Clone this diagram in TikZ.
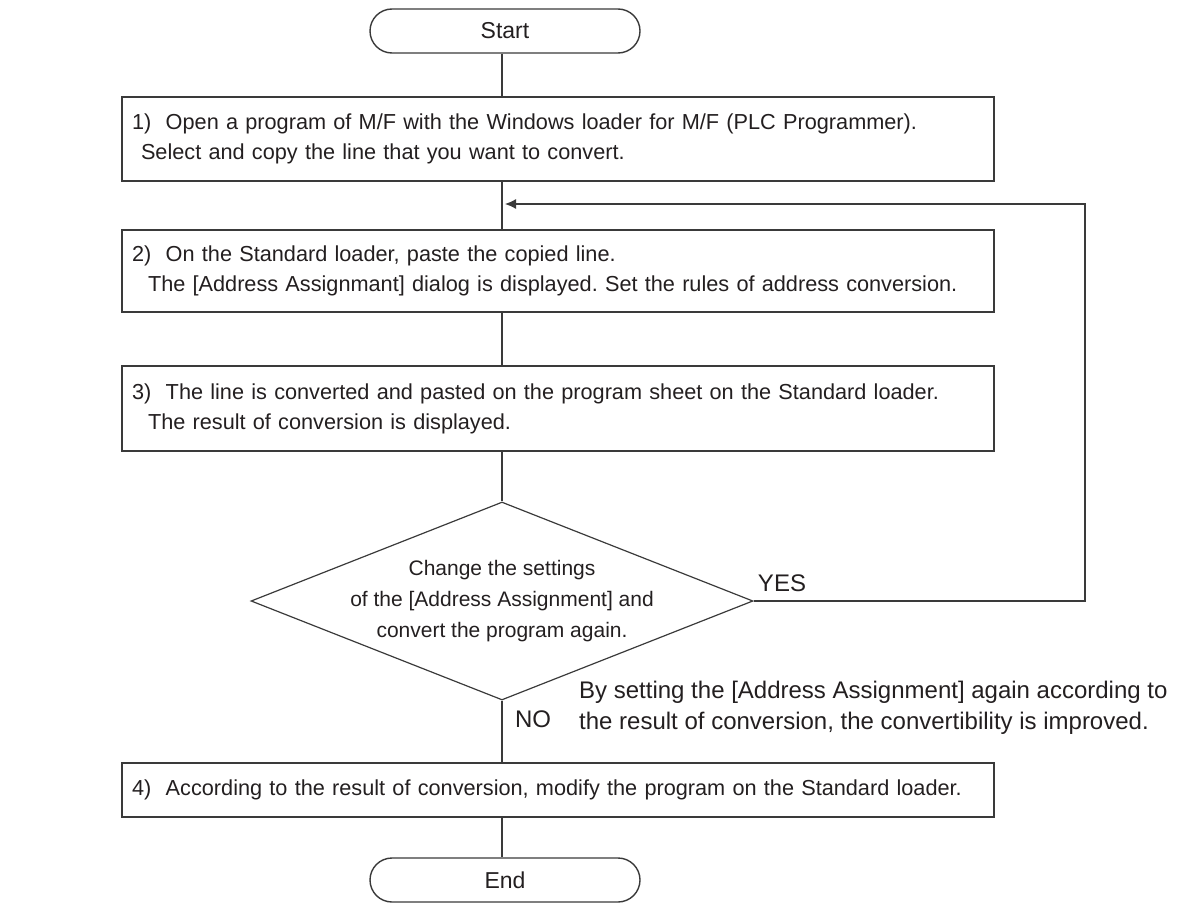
\documentclass[tikz,border=0pt]{standalone}
\usepackage{fontspec}
\setmainfont{Liberation Sans}
\usetikzlibrary{shapes.geometric,arrows.meta}
\definecolor{ink}{HTML}{231F20}
\definecolor{rule}{HTML}{3A3A3A}
\begin{document}
\frenchspacing
\begin{tikzpicture}[x=1pt,y=-1pt,
  every node/.style={text=ink,font=\fontsize{21.7}{30}\selectfont},
  terminal/.style={draw=rule,line width=1.4pt,rectangle,rounded corners=22pt,
    minimum width=270pt,minimum height=44pt,inner sep=0pt,
    font=\fontsize{23}{30}\selectfont},
  stepbox/.style={draw=rule,line width=1.4pt,rectangle,minimum width=872pt,
    text width=852pt,align=left,inner xsep=10pt,inner ysep=0pt},
  decision/.style={draw=rule,line width=1.2pt,diamond,minimum width=502pt,
    minimum height=198pt,inner sep=0pt},
  flow/.style={draw=rule,line width=1.2pt},
  tag/.style={inner sep=0pt,font=\fontsize{24}{31}\selectfont}]
  \useasboundingbox (0,0) rectangle (1184,907);

  % terminals and process steps
  \node[terminal] (start) at (505,31) {Start};
  \node[stepbox,minimum height=84pt] (b1) at (558,139)
    {1)\ \ Open a program of M/F with the Windows loader for M/F (PLC Programmer).\\
     \hspace*{9pt}Select and copy the line that you want to convert.};
  \node[stepbox,minimum height=82pt] (b2) at (558,271)
    {2)\ \ On the Standard loader, paste the copied line.\\
     \hspace*{16pt}The [Address Assignmant] dialog is displayed. Set the rules of address conversion.};
  \node[stepbox,minimum height=85pt] (b3) at (558,408.5)
    {3)\ \ The line is converted and pasted on the program sheet on the Standard loader.\\
     \hspace*{16pt}The result of conversion is displayed.};
  \node[decision] (dec) at (502,601) {};
  \node[align=center,inner sep=0pt,font=\fontsize{21}{31}\selectfont] (dectext) at (dec.center)
    {Change the settings\\ of the [Address Assignment] and\\ convert the program again.};
  \node[stepbox,minimum height=54pt] (b4) at (558,790)
    {4)\ \ According to the result of conversion, modify the program on the Standard loader.};
  \node[terminal] (end) at (505,880) {End};

  % branch labels and remark
  \node[tag] (yes) at (782,583) {YES};
  \node[tag] (no) at (533,719) {NO};
  \node[tag,anchor=west,align=left] (note) at (579,708)
    {By setting the [Address Assignment] again according to\\
     the result of conversion, the convertibility is improved.};

  % connectors along the main line
  \coordinate (loopin) at (505,204);
  \coordinate (corner) at (1085,601);
  \draw[flow] (start.south -| dec.north) -- (b1.north -| dec.north);
  \draw[flow] (b1.south -| dec.north) -- (b2.north -| dec.north);
  \draw[flow] (b2.south -| dec.north) -- (b3.north -| dec.north);
  \draw[flow] (b3.south -| dec.north) -- (dec.north);
  \draw[flow] (dec.south) -- (b4.north -| dec.south);
  \draw[flow] (b4.south -| dec.south) -- (end.north -| dec.south);
  % return path for YES
  \draw[flow,-{Latex[length=11pt,width=10pt]}] (dec.east) -- (corner) |- (loopin);
\end{tikzpicture}
\end{document}
